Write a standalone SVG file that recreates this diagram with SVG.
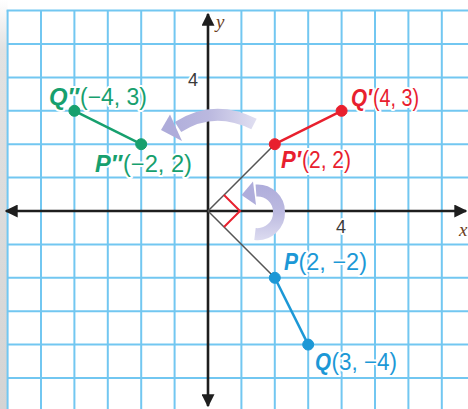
<svg xmlns="http://www.w3.org/2000/svg" width="468" height="409" viewBox="0 0 468 409">
  <defs>
    <linearGradient id="shadow" x1="0" y1="0" x2="0" y2="1">
      <stop offset="0" stop-color="#ffffff"/>
      <stop offset="0.12" stop-color="#e2e2e2"/>
      <stop offset="1" stop-color="#d4d4d4"/>
    </linearGradient>
    <linearGradient id="bigArrow" gradientUnits="userSpaceOnUse" x1="160" y1="0" x2="256" y2="0">
      <stop offset="0" stop-color="#aeacda"/>
      <stop offset="0.5" stop-color="#bab8df"/>
      <stop offset="1" stop-color="#e0dff1"/>
    </linearGradient>
    <linearGradient id="smallArrow" gradientUnits="userSpaceOnUse" x1="0" y1="185" x2="0" y2="240">
      <stop offset="0" stop-color="#afaddb"/>
      <stop offset="0.5" stop-color="#bcbae0"/>
      <stop offset="1" stop-color="#dcdbf0"/>
    </linearGradient>
    <marker id="axHead" viewBox="0 0 10 10" refX="9" refY="5" markerWidth="5" markerHeight="5" orient="auto-start-reverse" markerUnits="strokeWidth">
      <path d="M0,0 L10,5 L0,10 z" fill="#1e1e1e"/>
    </marker>
  </defs>
  <style>
    .grid line { stroke: #72c7f1; stroke-width: 2; }
    .axis { stroke: #1e1e1e; stroke-width: 2.6; fill: none; }
    .lbl { font-family: "Liberation Sans", Arial, sans-serif; font-size: 23px; paint-order: stroke; stroke: #ffffff; stroke-width: 4; stroke-linejoin: round; }
    .nm { font-weight: bold; font-style: italic; }
    .tick { font-family: "Liberation Sans", Arial, sans-serif; font-size: 18px; fill: #3a3a3a; paint-order: stroke; stroke: #ffffff; stroke-width: 4; stroke-linejoin: round; }
    .axlbl { font-family: "Liberation Serif", "Times New Roman", serif; font-style: italic; font-size: 19px; fill: #6a3c22; }
    .ray { stroke: #555555; stroke-width: 1.5; fill: none; }
    .red { stroke: #e8202e; fill: #e8202e; }
    .blue { stroke: #1c98d6; fill: #1c98d6; }
    .green { stroke: #17a06e; fill: #17a06e; }
    .seg { stroke-width: 2.5; fill: none; }
  </style>

  <!-- background and page shadow -->
  <rect x="0" y="0" width="468" height="409" fill="#ffffff"/>
  <rect x="0" y="0" width="7.6" height="409" fill="url(#shadow)"/>

  <!-- grid -->
  <g class="grid">
    <line x1="7.6" y1="10.6" x2="7.6" y2="409"/>
    <line x1="41" y1="10.6" x2="41" y2="409"/>
    <line x1="74.4" y1="10.6" x2="74.4" y2="409"/>
    <line x1="107.8" y1="10.6" x2="107.8" y2="409"/>
    <line x1="141.2" y1="10.6" x2="141.2" y2="409"/>
    <line x1="174.6" y1="10.6" x2="174.6" y2="409"/>
    <line x1="241.4" y1="10.6" x2="241.4" y2="409"/>
    <line x1="274.8" y1="10.6" x2="274.8" y2="409"/>
    <line x1="308.2" y1="10.6" x2="308.2" y2="409"/>
    <line x1="341.6" y1="10.6" x2="341.6" y2="409"/>
    <line x1="375" y1="10.6" x2="375" y2="409"/>
    <line x1="408.4" y1="10.6" x2="408.4" y2="409"/>
    <line x1="441.8" y1="10.6" x2="441.8" y2="409"/>
    <line x1="6.6" y1="10.6" x2="468" y2="10.6"/>
    <line x1="7.6" y1="44" x2="468" y2="44"/>
    <line x1="7.6" y1="77.4" x2="468" y2="77.4"/>
    <line x1="7.6" y1="110.8" x2="468" y2="110.8"/>
    <line x1="7.6" y1="144.2" x2="468" y2="144.2"/>
    <line x1="7.6" y1="177.6" x2="468" y2="177.6"/>
    <line x1="7.6" y1="244.4" x2="468" y2="244.4"/>
    <line x1="7.6" y1="277.8" x2="468" y2="277.8"/>
    <line x1="7.6" y1="311.2" x2="468" y2="311.2"/>
    <line x1="7.6" y1="344.6" x2="468" y2="344.6"/>
    <line x1="7.6" y1="378" x2="468" y2="378"/>
  </g>

  <!-- axes -->
  <g id="axes">
    <line class="axis" x1="6" y1="211" x2="466" y2="211" marker-start="url(#axHead)" marker-end="url(#axHead)"/>
    <line class="axis" x1="208" y1="406" x2="208" y2="14" stroke-width="2.4" marker-start="url(#axHead)" marker-end="url(#axHead)"/>
    <text class="axlbl" x="216" y="28">y</text>
    <text class="axlbl" x="459" y="236">x</text>
    <text class="tick" x="188" y="86">4</text>
    <text class="tick" x="336" y="233">4</text>
  </g>

  <!-- rotation arrows -->
  <g id="rotate-big">
    <path d="M254 124 Q214 104 178 127" fill="none" stroke="url(#bigArrow)" stroke-width="12"/>
    <polygon points="161,130 170,114.5 182,141" fill="#aeacda"/>
  </g>
  <g id="rotate-small">
    <path d="M255 234 A21.5 21.5 0 0 0 279 212 A21.5 21.5 0 0 0 256 190.5" fill="none" stroke="url(#smallArrow)" stroke-width="12"/>
    <polygon points="241.5,195 253,181.5 256,205" fill="#afaddb"/>
  </g>

  <!-- connectors -->
  <g id="connectors">
    <line class="ray" x1="208" y1="211" x2="274.8" y2="144.2"/>
    <line class="ray" x1="208" y1="211" x2="274.8" y2="277.8"/>
    <polyline points="224,195 240,211 224,227" fill="none" stroke="#e8202e" stroke-width="2"/>
    <line class="seg red" x1="274.8" y1="144.2" x2="341.6" y2="110.8"/>
    <line class="seg blue" x1="274.8" y1="277.8" x2="308.2" y2="344.6"/>
    <line class="seg green" x1="141.2" y1="144.2" x2="74.4" y2="110.8"/>
  </g>

  <!-- nodes -->
  <g id="P">
    <circle class="blue" cx="274.8" cy="277.8" r="5.5"/>
    <text class="lbl nm" x="284" y="270" fill="#1c98d6" textLength="14" lengthAdjust="spacingAndGlyphs">P</text>
    <text class="lbl" x="298.5" y="270" fill="#1c98d6" textLength="68.5" lengthAdjust="spacingAndGlyphs">(2, −2)</text>
  </g>
  <g id="Q">
    <circle class="blue" cx="308.2" cy="344.6" r="5.5"/>
    <text class="lbl nm" x="315" y="370" fill="#1c98d6" textLength="16" lengthAdjust="spacingAndGlyphs">Q</text>
    <text class="lbl" x="331.5" y="370" fill="#1c98d6" textLength="65.5" lengthAdjust="spacingAndGlyphs">(3, −4)</text>
  </g>
  <g id="P1">
    <circle class="red" cx="274.8" cy="144.2" r="5.5"/>
    <text class="lbl nm" x="281" y="168" fill="#e8202e" textLength="20" lengthAdjust="spacingAndGlyphs">P′</text>
    <text class="lbl" x="302" y="168" fill="#e8202e" textLength="49" lengthAdjust="spacingAndGlyphs">(2, 2)</text>
  </g>
  <g id="Q1">
    <circle class="red" cx="341.6" cy="110.8" r="5.5"/>
    <text class="lbl nm" x="351" y="106" fill="#e8202e" textLength="21" lengthAdjust="spacingAndGlyphs">Q′</text>
    <text class="lbl" x="373" y="106" fill="#e8202e" textLength="46" lengthAdjust="spacingAndGlyphs">(4, 3)</text>
  </g>
  <g id="P2">
    <circle class="green" cx="141.2" cy="144.2" r="5.5"/>
    <text class="lbl nm" x="95" y="172" fill="#17a06e" textLength="27" lengthAdjust="spacingAndGlyphs">P″</text>
    <text class="lbl" x="123" y="172" fill="#17a06e" textLength="69" lengthAdjust="spacingAndGlyphs">(−2, 2)</text>
  </g>
  <g id="Q2">
    <circle class="green" cx="74.4" cy="110.8" r="5.5"/>
    <text class="lbl nm" x="49" y="105" fill="#17a06e" textLength="30" lengthAdjust="spacingAndGlyphs">Q″</text>
    <text class="lbl" x="80" y="105" fill="#17a06e" textLength="67" lengthAdjust="spacingAndGlyphs">(−4, 3)</text>
  </g>
</svg>
